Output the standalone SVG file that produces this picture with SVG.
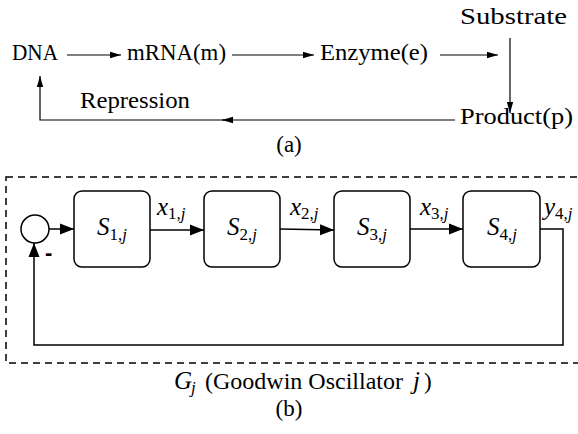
<svg xmlns="http://www.w3.org/2000/svg" width="578" height="434" viewBox="0 0 578 434" font-family="Liberation Serif, Times New Roman, serif">
<style>
svg text{font-family:'Liberation Serif','Times New Roman',Times,serif;fill:#000}
.t{font-size:23px}
.m{font-size:25px;font-style:italic}
.s{font-size:17px;font-style:normal}
.si{font-size:17px;font-style:italic}
.ln{fill:none;stroke:#000;stroke-width:1.2}
.lb{fill:none;stroke:#000;stroke-width:1.5}
.bx{fill:#fff;stroke:#000;stroke-width:1.5}
.dash{fill:none;stroke:#000;stroke-width:1.5;stroke-dasharray:7,5}
</style>
<defs>
<marker id="ah" markerWidth="11" markerHeight="8" refX="11" refY="4" orient="auto" markerUnits="userSpaceOnUse"><path d="M0,0.8L11,4L0,7.2z"/></marker>
<marker id="bh" markerWidth="14" markerHeight="12" refX="14" refY="6" orient="auto" markerUnits="userSpaceOnUse"><path d="M0,0.5L14,6L0,11.5z"/></marker>
</defs>

<g id="dna"><text class="t" x="12" y="60" textLength="46" lengthAdjust="spacingAndGlyphs">DNA</text></g>
<g id="mrna"><text class="t" x="127" y="60" textLength="99" lengthAdjust="spacingAndGlyphs">mRNA(m)</text></g>
<g id="enzyme"><text class="t" x="320" y="60" textLength="108" lengthAdjust="spacingAndGlyphs">Enzyme(e)</text></g>
<g id="substrate"><text class="t" x="460" y="24" textLength="107" lengthAdjust="spacingAndGlyphs">Substrate</text></g>
<g id="product"><text class="t" x="460" y="124" textLength="113" lengthAdjust="spacingAndGlyphs">Product(p)</text></g>
<g id="repression"><text class="t" x="80" y="108" textLength="110" lengthAdjust="spacingAndGlyphs">Repression</text></g>
<text class="t" x="289" y="152" text-anchor="middle">(a)</text>

<g id="connectors-a">
<line class="ln" x1="67" y1="55" x2="121" y2="55" marker-end="url(#ah)"/>
<line class="ln" x1="232" y1="55" x2="314" y2="55" marker-end="url(#ah)"/>
<line class="ln" x1="440" y1="55" x2="498" y2="55" marker-end="url(#ah)"/>
<line class="ln" x1="510" y1="38" x2="510" y2="113" marker-end="url(#ah)"/>
<line class="ln" x1="455" y1="120" x2="222" y2="120" marker-end="url(#ah)"/>
<polyline class="ln" points="224,120 40,120 40,76" marker-end="url(#ah)"/>
</g>

<rect class="dash" x="6" y="177" width="590" height="186"/>

<g id="sum"><circle class="bx" cx="35" cy="229" r="14"/><text x="45" y="260" style="font-family:'Liberation Sans',sans-serif;font-weight:bold;font-size:22px">-</text></g>
<g id="s1"><rect class="bx" x="74" y="191" width="76" height="76" rx="8"/><text class="m" x="112" y="235" text-anchor="middle">S<tspan class="s" dy="5">1,</tspan><tspan class="si">j</tspan></text></g>
<g id="s2"><rect class="bx" x="204" y="191" width="76" height="76" rx="8"/><text class="m" x="242" y="235" text-anchor="middle">S<tspan class="s" dy="5">2,</tspan><tspan class="si">j</tspan></text></g>
<g id="s3"><rect class="bx" x="334" y="191" width="76" height="76" rx="8"/><text class="m" x="372" y="235" text-anchor="middle">S<tspan class="s" dy="5">3,</tspan><tspan class="si">j</tspan></text></g>
<g id="s4"><rect class="bx" x="463" y="191" width="77" height="76" rx="8"/><text class="m" x="502" y="235" text-anchor="middle">S<tspan class="s" dy="5">4,</tspan><tspan class="si">j</tspan></text></g>

<g id="connectors-b">
<line class="lb" x1="49" y1="229" x2="74" y2="229" marker-end="url(#bh)"/>
<line class="lb" x1="150" y1="230" x2="204" y2="230" marker-end="url(#bh)"/>
<line class="lb" x1="280" y1="229" x2="334" y2="230" marker-end="url(#bh)"/>
<line class="lb" x1="410" y1="229" x2="463" y2="229" marker-end="url(#bh)"/>
<polyline class="lb" points="540,229 563,229 563,345 34,345 34,243" marker-end="url(#bh)"/>
</g>
<g id="labels-b">
<text class="m" x="157" y="215">x<tspan class="s" dy="4">1,</tspan><tspan class="si">j</tspan></text>
<text class="m" x="290" y="215">x<tspan class="s" dy="4">2,</tspan><tspan class="si">j</tspan></text>
<text class="m" x="420" y="215">x<tspan class="s" dy="4">3,</tspan><tspan class="si">j</tspan></text>
<text class="m" x="544" y="215">y<tspan class="s" dy="4">4,</tspan><tspan class="si">j</tspan></text>
</g>
<g id="caption-b">
<text class="t" x="174" y="389"><tspan class="m">G</tspan><tspan class="si" x="191" dy="4">j</tspan><tspan x="205" dy="-4" style="font-size:24px">(Goodwin Oscillator</tspan><tspan class="m" x="413">j</tspan><tspan x="424">)</tspan></text>
<text class="t" x="289" y="416" text-anchor="middle">(b)</text>
</g>
</svg>
